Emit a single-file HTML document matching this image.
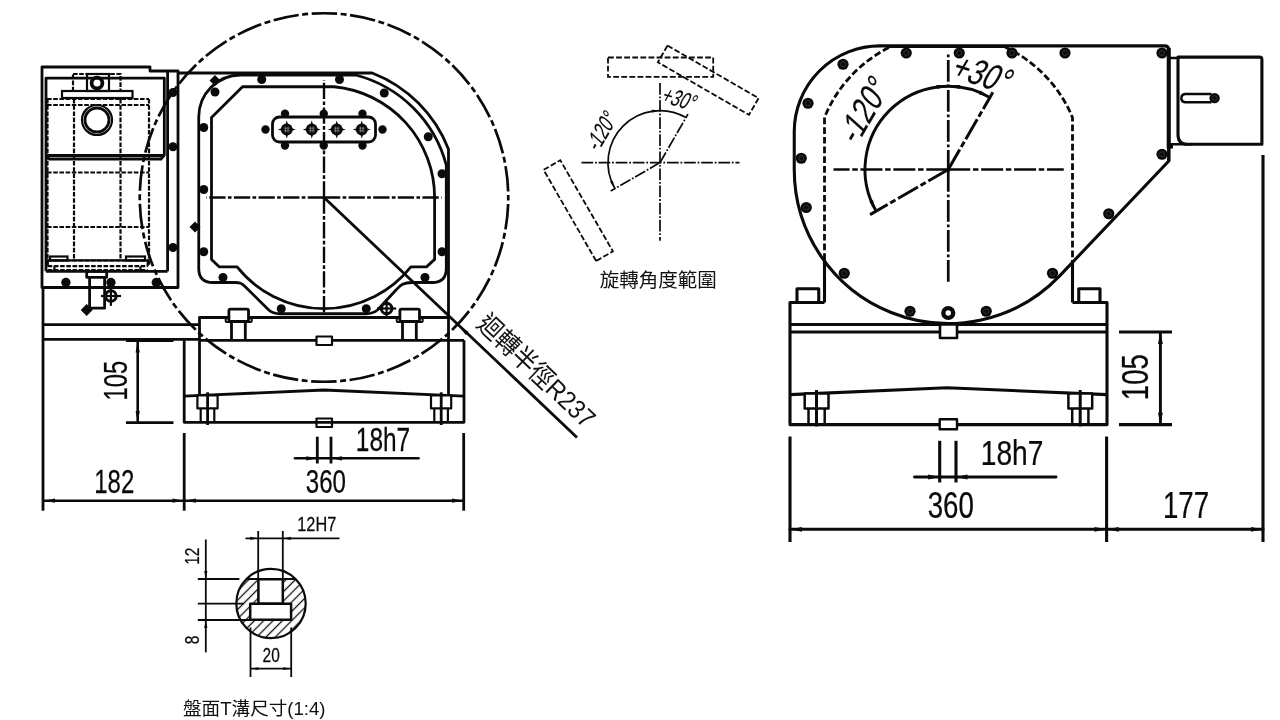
<!DOCTYPE html>
<html lang="zh-Hant">
<head>
<meta charset="utf-8">
<title>旋轉角度範圍 / 盤面T溝尺寸</title>
<style>
html,body{margin:0;padding:0;background:#fff;}
body{width:1280px;height:720px;overflow:hidden;}
svg{display:block;filter:grayscale(1);}
.m,.n,.s,.s2,.d,.d2,.dd,.cl,.cl2,.cl3,.clt{fill:none;stroke:#0a0a0a;}
.m{stroke-width:2.8;stroke-linejoin:round;}
.n{stroke-width:2.2;}
.s{stroke-width:2.6;stroke-linecap:round;}
.s2{stroke-width:1.8;}
.w{fill:none;stroke:#9a9a9a;stroke-width:0.7;}
.d{stroke-width:2.2;stroke-dasharray:4.6 1.6;}
.cl{stroke-width:2.4;stroke-dasharray:16.3 2.3 3.7 2.3;}
.cl2{stroke-width:2.7;stroke-dasharray:25.5 3.55 6 3.54;}
.T .m{stroke-width:2.5;}
.M .n{stroke-width:1.7;}
.clt{stroke-width:1.7;stroke-dasharray:11.7 1.8 1.8 1.8;}
.dd{stroke-width:1.8;stroke-dasharray:5.8 2.3;}
.R .m{stroke-width:3.1;}
.R .n{stroke-width:2.4;}
.R .s{stroke-width:2.9;}
.d2{stroke-width:2.8;stroke-dasharray:6.7 3;}
.R .cl{stroke-width:2.7;stroke-dasharray:22 2.7 5.5 2.7;}
.cl3{stroke-width:3;stroke-dasharray:23 3 6 3;}
.b{fill:#0a0a0a;stroke:none;}
.af{fill:#0a0a0a;stroke:none;}
.t{font-family:"Liberation Sans","Noto Sans CJK TC",sans-serif;fill:#0a0a0a;stroke:#0a0a0a;stroke-width:0.25;}
.ti{font-family:"Liberation Sans","Noto Sans CJK TC",sans-serif;fill:#0a0a0a;stroke:#0a0a0a;stroke-width:0.15;}
.tc{font-family:"Liberation Sans","Noto Sans CJK TC",sans-serif;fill:#111;}
</style>
</head>
<body>
<svg width="1280" height="720" viewBox="0 0 1280 720">
<rect x="0" y="0" width="1280" height="720" fill="#fff"/>
<g class="L">
<path class="m" d="M42,287.5 V67 H150 V71 H178 V287.5 Z"/>
<line class="m" x1="167.6" y1="71" x2="167.6" y2="271.3"/>
<path class="m" d="M46,271.3 V78.2 H164.3 V155 L161,159 H49.3 L46,155"/>
<line class="m" x1="46" y1="155.5" x2="164.3" y2="155.5"/>
<line class="m" x1="46" y1="271.3" x2="167.6" y2="271.3"/>
<rect class="d" x="73" y="74" width="47.5" height="17"/>
<rect class="n" x="87" y="74" width="22" height="17"/>
<circle class="m" cx="97" cy="83" r="5.4" style="stroke-width:3.8"/>
<rect class="n" x="62" y="91" width="70.5" height="7"/>
<line class="d" x1="47" y1="99" x2="149" y2="99"/>
<line class="d" x1="47" y1="105" x2="149" y2="105"/>
<line class="d" x1="47.5" y1="99" x2="47.5" y2="266"/>
<line class="d" x1="74" y1="99" x2="74" y2="260"/>
<line class="d" x1="120.5" y1="99" x2="120.5" y2="260"/>
<line class="d" x1="149" y1="99" x2="149" y2="266"/>
<line class="d" x1="47" y1="172.5" x2="149" y2="172.5"/>
<line class="d" x1="47" y1="227" x2="149" y2="227"/>
<circle class="n" cx="97" cy="120" r="15"/>
<circle class="m" cx="97" cy="120" r="12"/>
<rect class="n" x="50" y="256.5" width="17.5" height="4"/>
<rect class="n" x="126" y="256.5" width="19" height="4"/>
<path class="n" d="M47.7,266.2 V260.4 H147.7 V266.2"/>
<line class="d" x1="47.7" y1="266.2" x2="147.7" y2="266.2"/>
<line class="d" x1="47.5" y1="260.5" x2="149" y2="260.5"/>
<path class="n" d="M54.4,266.2 V271 M140.4,266.2 V271"/>
<line class="d" x1="47.7" y1="270" x2="147.7" y2="270"/>
<circle class="b" cx="173" cy="92.5" r="4.5"/>
<circle class="b" cx="173" cy="146.75" r="4.5"/>
<circle class="b" cx="173" cy="247.5" r="4.5"/>
<circle class="b" cx="65.9" cy="282.5" r="4.7"/>
<circle class="b" cx="110.9" cy="282.5" r="4.7"/>
<circle class="b" cx="156.3" cy="282.5" r="4.7"/>
<rect class="m" x="86.7" y="271.3" width="20" height="6"/>
<path class="m" d="M89.6,277.3 V308.2 M104.6,277.3 V308.2 H91"/>
<polygon class="b" points="86.7,304 92.7,310 86.7,316 80.7,310"/>
<circle class="m" cx="110.9" cy="296" r="5.3" style="stroke-width:3"/>
<line class="n" x1="101" y1="296" x2="121" y2="296"/>
<line class="n" x1="110.9" y1="286.5" x2="110.9" y2="305.8"/>
<line class="m" x1="43" y1="287.5" x2="43" y2="510.7"/>
<line class="m" x1="43" y1="324.7" x2="199.5" y2="324.7"/>
<line class="m" x1="43" y1="339.3" x2="199.5" y2="339.3"/>
<path class="m" d="M178,73 H372.19 A133.5,133.5 0 0 1 448.50,149.31 V395.5"/>
<path class="m" d="M198.75,117 A42,42 0 0 1 240.75,75 H355.56 A126.5,126.5 0 0 1 446.3,165.17 V268.5 Q446.3,282.5 432.3,282.5 H412 C402,282.5 400,286 396,290 L377.5,310 C374,313 371,313.75 366,313.75 H280 C275,313.75 272,313 268.75,310 L245,286.5 C241.5,283 240,282.5 235,282.5 H212.75 Q198.75,282.5 198.75,268.5 Z"/>
<path class="m" d="M211.5,117.5 L242.5,86.75 H333.99 A111.2,111.2 0 0 1 434.6,197.5 V259.4 L426.5,266.9 H410.89 A111.2,111.2 0 0 1 237.11,266.9 H219.4 L211.5,259.4 Z"/>
<circle class="cl2" cx="324" cy="197.5" r="184.25" stroke-dashoffset="32.04"/>
<line class="cl" x1="324" y1="197.5" x2="206.5" y2="197.5"/>
<line class="cl" x1="324" y1="197.5" x2="441.5" y2="197.5"/>
<line class="cl" x1="324" y1="197.5" x2="324" y2="80"/>
<line class="cl" x1="324" y1="197.5" x2="324" y2="313.5"/>
<rect class="m" x="272.5" y="117" width="103" height="25" rx="7" ry="7"/>
<circle class="b" cx="286.75" cy="129.5" r="5.9"/>
<polygon class="b" points="277.75,129.5 281.75,128.2 281.75,130.8"/>
<polygon class="b" points="295.75,129.5 291.75,128.2 291.75,130.8"/>
<polygon class="b" points="286.75,120.5 285.45,124.5 288.05,124.5"/>
<polygon class="b" points="286.75,138.5 285.45,134.5 288.05,134.5"/>
<line class="w" x1="285.45" y1="126.7" x2="285.45" y2="132.3"/>
<line class="w" x1="283.95" y1="128.2" x2="289.55" y2="128.2"/>
<line class="w" x1="288.05" y1="126.7" x2="288.05" y2="132.3"/>
<line class="w" x1="283.95" y1="130.8" x2="289.55" y2="130.8"/>
<circle class="b" cx="311.75" cy="129.5" r="5.9"/>
<polygon class="b" points="302.75,129.5 306.75,128.2 306.75,130.8"/>
<polygon class="b" points="320.75,129.5 316.75,128.2 316.75,130.8"/>
<polygon class="b" points="311.75,120.5 310.45,124.5 313.05,124.5"/>
<polygon class="b" points="311.75,138.5 310.45,134.5 313.05,134.5"/>
<line class="w" x1="310.45" y1="126.7" x2="310.45" y2="132.3"/>
<line class="w" x1="308.95" y1="128.2" x2="314.55" y2="128.2"/>
<line class="w" x1="313.05" y1="126.7" x2="313.05" y2="132.3"/>
<line class="w" x1="308.95" y1="130.8" x2="314.55" y2="130.8"/>
<circle class="b" cx="336.75" cy="129.5" r="5.9"/>
<polygon class="b" points="327.75,129.5 331.75,128.2 331.75,130.8"/>
<polygon class="b" points="345.75,129.5 341.75,128.2 341.75,130.8"/>
<polygon class="b" points="336.75,120.5 335.45,124.5 338.05,124.5"/>
<polygon class="b" points="336.75,138.5 335.45,134.5 338.05,134.5"/>
<line class="w" x1="335.45" y1="126.7" x2="335.45" y2="132.3"/>
<line class="w" x1="333.95" y1="128.2" x2="339.55" y2="128.2"/>
<line class="w" x1="338.05" y1="126.7" x2="338.05" y2="132.3"/>
<line class="w" x1="333.95" y1="130.8" x2="339.55" y2="130.8"/>
<circle class="b" cx="361.75" cy="129.5" r="5.9"/>
<polygon class="b" points="352.75,129.5 356.75,128.2 356.75,130.8"/>
<polygon class="b" points="370.75,129.5 366.75,128.2 366.75,130.8"/>
<polygon class="b" points="361.75,120.5 360.45,124.5 363.05,124.5"/>
<polygon class="b" points="361.75,138.5 360.45,134.5 363.05,134.5"/>
<line class="w" x1="360.45" y1="126.7" x2="360.45" y2="132.3"/>
<line class="w" x1="358.95" y1="128.2" x2="364.55" y2="128.2"/>
<line class="w" x1="363.05" y1="126.7" x2="363.05" y2="132.3"/>
<line class="w" x1="358.95" y1="130.8" x2="364.55" y2="130.8"/>
<circle class="b" cx="285" cy="113.75" r="4.2"/>
<circle class="b" cx="285" cy="145.5" r="4.2"/>
<circle class="b" cx="323.75" cy="113.75" r="4.2"/>
<circle class="b" cx="323.75" cy="145.5" r="4.2"/>
<circle class="b" cx="362.5" cy="113.75" r="4.2"/>
<circle class="b" cx="362.5" cy="145.5" r="4.2"/>
<circle class="b" cx="265.5" cy="129.5" r="4.2"/>
<circle class="b" cx="382.5" cy="129.5" r="4.2"/>
<circle class="b" cx="215" cy="92" r="4.5"/>
<circle class="b" cx="261.75" cy="79.5" r="4.5"/>
<circle class="b" cx="339.5" cy="79.5" r="4.5"/>
<circle class="b" cx="384.25" cy="93" r="4.5"/>
<circle class="b" cx="428.25" cy="136.75" r="4.5"/>
<circle class="b" cx="442" cy="173.75" r="4.5"/>
<circle class="b" cx="203.75" cy="127.5" r="4.5"/>
<circle class="b" cx="203.75" cy="189.5" r="4.5"/>
<circle class="b" cx="203.75" cy="251.75" r="4.5"/>
<circle class="b" cx="223" cy="277.5" r="4.5"/>
<circle class="b" cx="281.25" cy="308.75" r="4.5"/>
<circle class="b" cx="366.25" cy="308.75" r="4.5"/>
<circle class="b" cx="425" cy="277.5" r="4.5"/>
<circle class="b" cx="442" cy="251.75" r="4.5"/>
<polygon class="b" points="215,75 220.5,80.5 215,86 209.5,80.5"/>
<polygon class="b" points="195,221.5 200.5,227 195,232.5 189.5,227"/>
<circle class="m" cx="386.6" cy="308.5" r="5.3" style="stroke-width:3"/>
<line class="n" x1="377" y1="308.5" x2="396.2" y2="308.5"/>
<line class="n" x1="386.6" y1="299" x2="386.6" y2="318"/>
<line class="m" x1="324" y1="197.5" x2="577" y2="437.5"/>
<polygon class="af" points="457.80,324.50 468.68,331.93 465.78,334.97"/>
<text class="tc" transform="translate(475.6 325.5) rotate(43.6) scale(0.89 1)" font-size="26.5" text-anchor="start">迴轉半徑R237</text>
<path class="m" d="M199.5,394.5 V317.5 H448.5"/>
<line class="m" x1="199.5" y1="340.3" x2="464" y2="340.3"/>
<rect class="m" x="225.70000000000002" y="318.3" width="26" height="3.6" style="stroke-width:2;fill:#fff" rx="1"/>
<rect class="m" x="228.9" y="309.1" width="19.6" height="12.2" style="fill:#fff" rx="1.6"/>
<line class="m" x1="231.5" y1="321.3" x2="231.5" y2="340.3"/>
<line class="m" x1="245.3" y1="321.3" x2="245.3" y2="340.3"/>
<rect class="m" x="396.7" y="318.3" width="26" height="3.6" style="stroke-width:2;fill:#fff" rx="1"/>
<rect class="m" x="399.9" y="309.1" width="19.6" height="12.2" style="fill:#fff" rx="1.6"/>
<line class="m" x1="402.5" y1="321.3" x2="402.5" y2="340.3"/>
<line class="m" x1="416.29999999999995" y1="321.3" x2="416.29999999999995" y2="340.3"/>
<rect class="m" x="316.5" y="336.5" width="15.5" height="8.5" style="fill:#fff;stroke-width:2.2"/>
<rect class="m" x="316.5" y="418.5" width="15.5" height="8.5" style="fill:#fff;stroke-width:2.2"/>
<path class="m" d="M184.2,340.3 V422.3 H464 V340.3"/>
<path class="m" d="M184.2,396.2 L324,390 L464,396.2"/>
<rect class="m" x="197.4" y="395.3" width="20.2" height="13.099999999999966" style="fill:#fff;stroke-width:2.2"/>
<line class="m" x1="200.7" y1="408.4" x2="200.7" y2="422.5" style="stroke-width:2.2"/>
<line class="m" x1="214.29999999999998" y1="408.4" x2="214.29999999999998" y2="422.5" style="stroke-width:2.2"/>
<line class="m" x1="207.6" y1="392.3" x2="207.6" y2="425" style="stroke-width:2.8"/>
<rect class="m" x="431.0" y="395.3" width="20.2" height="13.099999999999966" style="fill:#fff;stroke-width:2.2"/>
<line class="m" x1="434.3" y1="408.4" x2="434.3" y2="422.5" style="stroke-width:2.2"/>
<line class="m" x1="447.9" y1="408.4" x2="447.9" y2="422.5" style="stroke-width:2.2"/>
<line class="m" x1="441.2" y1="392.3" x2="441.2" y2="425" style="stroke-width:2.8"/>
<line class="m" x1="126" y1="340.7" x2="173.5" y2="340.7"/>
<line class="m" x1="126" y1="422.7" x2="173.5" y2="422.7"/>
<line class="s" x1="137.7" y1="341" x2="137.7" y2="422"/>
<polygon class="af" points="137.70,341.50 139.80,352.50 135.60,352.50"/>
<polygon class="af" points="137.70,422.00 135.60,411.00 139.80,411.00"/>
<text class="t" transform="translate(127 400.6) rotate(-90) scale(0.724 1)" font-size="33" text-anchor="start">105</text>
<line class="m" x1="317.3" y1="436.7" x2="317.3" y2="463.5"/>
<line class="m" x1="331" y1="436.7" x2="331" y2="463.5"/>
<line class="s" x1="295" y1="458.3" x2="331" y2="458.3"/>
<line class="s" x1="331" y1="458.3" x2="418.5" y2="458.3"/>
<polygon class="af" points="317.30,458.30 306.30,460.40 306.30,456.20"/>
<polygon class="af" points="331.00,458.30 342.00,456.20 342.00,460.40"/>
<text class="t" transform="translate(355.8 450.5) scale(0.741 1)" font-size="33" text-anchor="start">18h7</text>
<line class="m" x1="184.2" y1="433" x2="184.2" y2="510.7"/>
<line class="m" x1="463.7" y1="433" x2="463.7" y2="510.7"/>
<line class="s" x1="44" y1="500.7" x2="463.7" y2="500.7"/>
<polygon class="af" points="44.00,500.70 55.00,498.60 55.00,502.80"/>
<polygon class="af" points="183.50,500.70 172.50,502.80 172.50,498.60"/>
<polygon class="af" points="185.00,500.70 196.00,498.60 196.00,502.80"/>
<polygon class="af" points="463.00,500.70 452.00,502.80 452.00,498.60"/>
<text class="t" transform="translate(94.3 492.6) scale(0.726 1)" font-size="33" text-anchor="start">182</text>
<text class="t" transform="translate(305.8 492.7) scale(0.731 1)" font-size="33" text-anchor="start">360</text>
</g>
<g class="T">
<defs><pattern id="h" width="6.6" height="6.6" patternUnits="userSpaceOnUse" patternTransform="rotate(-45 271 603.5)"><line x1="0" y1="3.3" x2="6.6" y2="3.3" stroke="#111" stroke-width="1.3"/></pattern><clipPath id="hc"><rect x="230" y="579" width="90" height="70"/></clipPath></defs>
<circle class="m" cx="271" cy="603.5" r="34.7" style="fill:url(#h);stroke:none" clip-path="url(#hc)"/>
<line class="s2" x1="246.43" y1="579" x2="295.57" y2="579"/>
<rect class="m" x="258.4" y="579.2" width="24.4" height="24.5" style="fill:#fff"/>
<rect class="m" x="250.2" y="603.7" width="40.9" height="16.1" style="fill:#fff"/>
<circle class="m" cx="271" cy="603.5" r="34.7" style="stroke-width:2.2"/>
<line class="s2" x1="258.2" y1="531" x2="258.2" y2="579"/>
<line class="s2" x1="282.8" y1="531" x2="282.8" y2="579"/>
<line class="s2" x1="245.5" y1="538.4" x2="282.8" y2="538.4"/>
<line class="s2" x1="283" y1="538.4" x2="339.5" y2="538.4"/>
<polygon class="af" points="258.20,538.40 250.20,540.00 250.20,536.80"/>
<polygon class="af" points="282.80,538.40 290.80,536.80 290.80,540.00"/>
<text class="t" transform="translate(297.3 531.2) scale(0.824 1)" font-size="19.8" text-anchor="start">12H7</text>
<line class="s2" x1="205.8" y1="539.5" x2="205.8" y2="652.4"/>
<polygon class="af" points="205.80,579.00 204.20,571.00 207.40,571.00"/>
<polygon class="af" points="205.80,620.00 207.40,628.00 204.20,628.00"/>
<line class="s2" x1="197.8" y1="579" x2="239.4" y2="579"/>
<line class="s2" x1="197.8" y1="603.7" x2="244" y2="603.7"/>
<line class="s2" x1="197.8" y1="620" x2="250" y2="620"/>
<text class="t" transform="translate(198.8 564.8) rotate(-90) scale(0.78 1)" font-size="19.8" text-anchor="start">12</text>
<text class="t" transform="translate(198.5 644.2) rotate(-90) scale(0.78 1)" font-size="19.8" text-anchor="start">8</text>
<line class="s2" x1="250.5" y1="627.4" x2="250.5" y2="677"/>
<line class="s2" x1="291.2" y1="627.4" x2="291.2" y2="677"/>
<line class="s2" x1="250.5" y1="668.6" x2="291.2" y2="668.6"/>
<polygon class="af" points="250.50,668.60 258.50,667.20 258.50,670.00"/>
<polygon class="af" points="291.20,668.60 283.20,670.00 283.20,667.20"/>
<text class="t" transform="translate(262.6 662) scale(0.78 1)" font-size="19.8" text-anchor="start">20</text>
<text class="tc" transform="translate(183 715)" font-size="18.6" text-anchor="start">盤面T溝尺寸(1:4)</text>
</g>
<g class="M">
<line class="clt" x1="581.5" y1="162.6" x2="739.5" y2="162.6"/>
<line class="clt" x1="660" y1="83" x2="660" y2="240.8"/>
<rect class="dd" x="608" y="57.5" width="105.2" height="19.3"/>
<rect class="dd" x="608" y="57.5" width="105.2" height="19.3" transform="rotate(30 660 162.6)"/>
<rect class="dd" x="608" y="57.5" width="105.2" height="19.3" transform="translate(1.2 0.8) rotate(-120 660 162.6)"/>
<path class="n" d="M614.97,188.60 A52,52 0 0 1 686.00,117.57"/>
<polygon class="af" points="660.00,110.60 655.86,109.94 651.63,109.76 652.10,112.72 655.98,111.58"/>
<polygon class="af" points="614.97,188.60 612.32,185.34 610.05,181.77 612.85,180.70 613.81,184.63"/>
<line class="clt" x1="660" y1="162.6" x2="688.00" y2="114.10"/>
<line class="clt" x1="660" y1="162.6" x2="610.64" y2="191.10"/>
<text class="ti" transform="translate(659.8 101.2) rotate(17) skewX(-12) scale(0.68 1)" font-size="23.5" text-anchor="start">+30°</text>
<text class="ti" transform="translate(598 153) rotate(-60) skewX(-12) scale(0.69 1)" font-size="23.5" text-anchor="start">-120°</text>
<text class="tc" transform="translate(599.8 287.3)" font-size="19.5" text-anchor="start">旋轉角度範圍</text>
</g>
<g class="R">
<path class="m" d="M1168.8,161 V50 Q1168.8,45.9 1164.5,45.9 H880 A85.75,85.75 0 0 0 794.25,131.65 V169.5 A154,154 0 0 0 1059.87,275.60 Z"/>
<path class="d2" d="M824.5,260 V117.5 A135,135 0 0 1 890,47 M1005,47 A135,135 0 0 1 1072.5,117.5 V260"/>
<line class="m" x1="824.5" y1="260" x2="824.5" y2="302.5"/>
<line class="m" x1="889" y1="46.6" x2="1006" y2="46.6" style="stroke-width:3"/>
<line class="m" x1="1072.5" y1="260" x2="1072.5" y2="302.5"/>
<line class="cl" x1="948.25" y1="169.5" x2="833.5" y2="169.5"/>
<line class="cl" x1="948.25" y1="169.5" x2="1063.75" y2="169.5"/>
<line class="cl" x1="948.25" y1="171.7" x2="948.25" y2="54" style="stroke-dasharray:21.7 2.7 2.9 2.7"/>
<line class="cl" x1="948.25" y1="170" x2="948.25" y2="283.5" style="stroke-dasharray:21.7 2.7 2.9 2.7"/>
<path class="m" d="M876.15,211.12 A83.25,83.25 0 0 1 989.88,97.40" style="stroke-width:2.9"/>
<polygon class="af" points="948.25,86.25 942.37,85.36 936.39,85.08 936.94,89.04 942.52,87.55"/>
<polygon class="af" points="948.25,86.25 954.13,85.36 960.11,85.08 959.56,89.04 953.98,87.55"/>
<polygon class="af" points="876.15,211.12 872.44,206.48 869.21,201.44 872.92,199.94 874.41,205.51"/>
<polygon class="af" points="989.88,97.40 985.23,93.69 980.19,90.46 978.69,94.17 984.26,95.66"/>
<line class="cl3" x1="948.25" y1="169.5" x2="992.88" y2="92.21"/>
<line class="cl3" x1="948.25" y1="169.5" x2="870.09" y2="214.62"/>
<text class="ti" transform="translate(949 76) rotate(18) skewX(-12) scale(0.76 1)" font-size="36.5" text-anchor="start">+30°</text>
<text class="ti" transform="translate(856.5 146.7) rotate(-60) skewX(-12) scale(0.79 1)" font-size="35" text-anchor="start">-120°</text>
<circle class="b" cx="906.25" cy="53" r="5.6"/>
<circle cx="906.25" cy="53" r="2.52" fill="none" stroke="#3a3a3a" stroke-width="0.8"/>
<circle class="b" cx="959.25" cy="53" r="5.6"/>
<circle cx="959.25" cy="53" r="2.52" fill="none" stroke="#3a3a3a" stroke-width="0.8"/>
<circle class="b" cx="1012" cy="53" r="5.6"/>
<circle cx="1012" cy="53" r="2.52" fill="none" stroke="#3a3a3a" stroke-width="0.8"/>
<circle class="b" cx="1065" cy="53" r="5.6"/>
<circle cx="1065" cy="53" r="2.52" fill="none" stroke="#3a3a3a" stroke-width="0.8"/>
<circle class="b" cx="1162" cy="53" r="5.6"/>
<circle cx="1162" cy="53" r="2.52" fill="none" stroke="#3a3a3a" stroke-width="0.8"/>
<circle class="b" cx="1162" cy="154.25" r="5.6"/>
<circle cx="1162" cy="154.25" r="2.52" fill="none" stroke="#3a3a3a" stroke-width="0.8"/>
<circle class="b" cx="843" cy="64.25" r="5.6"/>
<circle cx="843" cy="64.25" r="2.52" fill="none" stroke="#3a3a3a" stroke-width="0.8"/>
<circle class="b" cx="808" cy="103.25" r="5.6"/>
<circle cx="808" cy="103.25" r="2.52" fill="none" stroke="#3a3a3a" stroke-width="0.8"/>
<circle class="b" cx="801.25" cy="158.25" r="5.6"/>
<circle cx="801.25" cy="158.25" r="2.52" fill="none" stroke="#3a3a3a" stroke-width="0.8"/>
<circle class="b" cx="806.25" cy="207.5" r="5.6"/>
<circle cx="806.25" cy="207.5" r="2.52" fill="none" stroke="#3a3a3a" stroke-width="0.8"/>
<circle class="b" cx="844.25" cy="273.25" r="5.6"/>
<circle cx="844.25" cy="273.25" r="2.52" fill="none" stroke="#3a3a3a" stroke-width="0.8"/>
<circle class="b" cx="910" cy="311.25" r="5.6"/>
<circle cx="910" cy="311.25" r="2.52" fill="none" stroke="#3a3a3a" stroke-width="0.8"/>
<circle class="b" cx="986.25" cy="311.25" r="5.6"/>
<circle cx="986.25" cy="311.25" r="2.52" fill="none" stroke="#3a3a3a" stroke-width="0.8"/>
<circle class="b" cx="1052.5" cy="273.25" r="5.6"/>
<circle cx="1052.5" cy="273.25" r="2.52" fill="none" stroke="#3a3a3a" stroke-width="0.8"/>
<circle class="b" cx="1108.75" cy="213.75" r="5.6"/>
<circle cx="1108.75" cy="213.75" r="2.52" fill="none" stroke="#3a3a3a" stroke-width="0.8"/>
<circle class="m" cx="948.25" cy="313" r="4.9" style="stroke-width:4.4;fill:#fff"/>
<rect class="m" x="797" y="288.75" width="21.75" height="13.75"/>
<rect class="m" x="1078.75" y="288.75" width="21.25" height="13.75"/>
<path class="m" d="M824.5,302.5 H790 V424.6 H1107 V302.5 H1072.5"/>
<line class="m" x1="790" y1="324.5" x2="1107" y2="324.5"/>
<line class="m" x1="790" y1="332" x2="1107" y2="332"/>
<rect class="m" x="940" y="324.5" width="17" height="13.5" style="fill:#fff;stroke-width:2.6"/>
<path class="m" d="M790,394.6 L947,387.8 L1107,394.6"/>
<rect class="m" x="804.7" y="393.5" width="23.8" height="15" style="fill:#fff;stroke-width:2.5"/>
<line class="m" x1="808.5" y1="408.4" x2="808.5" y2="424" style="stroke-width:2.5"/>
<line class="m" x1="824.7" y1="408.4" x2="824.7" y2="424" style="stroke-width:2.5"/>
<line class="m" x1="816.5" y1="390" x2="816.5" y2="426.4" style="stroke-width:3"/>
<rect class="m" x="1068.4" y="393.5" width="23.8" height="15" style="fill:#fff;stroke-width:2.5"/>
<line class="m" x1="1072.2" y1="408.4" x2="1072.2" y2="424" style="stroke-width:2.5"/>
<line class="m" x1="1088.4" y1="408.4" x2="1088.4" y2="424" style="stroke-width:2.5"/>
<line class="m" x1="1080.2" y1="390" x2="1080.2" y2="426.4" style="stroke-width:3"/>
<rect class="m" x="939.7" y="419.3" width="17.3" height="10" style="fill:#fff;stroke-width:2.4"/>
<line class="m" x1="1168.7" y1="48" x2="1168.7" y2="148.5" style="stroke-width:4"/>
<line class="m" x1="1168.8" y1="148" x2="1168.8" y2="161"/>
<rect class="b" x="1169.5" y="143.5" width="3.5" height="5"/>
<path class="m" d="M1169,58 H1178 M1169,144.3 H1192" style="stroke-width:2.4"/>
<path class="m" d="M1178,57.1 H1259.4 Q1261.9,57.1 1261.9,59.6 V144.3 H1187.5 Q1178,144.3 1178,134.8 Z"/>
<path class="m" d="M1211.5,94 H1184.9 A4.2,4.2 0 0 0 1184.9,102.3 H1211.5" style="stroke-width:2.4"/>
<circle class="b" cx="1214.6" cy="98.1" r="5.2"/>
<circle cx="1214.6" cy="98.1" r="2.34" fill="none" stroke="#3a3a3a" stroke-width="0.8"/>
<line class="m" x1="1263" y1="155" x2="1263" y2="542"/>
<line class="m" x1="790" y1="436.5" x2="790" y2="542"/>
<line class="m" x1="1106.6" y1="436.5" x2="1106.6" y2="542"/>
<line class="s" x1="790" y1="529.3" x2="1263" y2="529.3"/>
<polygon class="af" points="790.50,529.30 802.00,526.90 802.00,531.70"/>
<polygon class="af" points="1106.00,529.30 1094.50,531.70 1094.50,526.90"/>
<polygon class="af" points="1107.30,529.30 1118.80,526.90 1118.80,531.70"/>
<polygon class="af" points="1262.50,529.30 1251.00,531.70 1251.00,526.90"/>
<text class="t" transform="translate(927.7 517.8) scale(0.747 1)" font-size="37" text-anchor="start">360</text>
<text class="t" transform="translate(1163 517.8) scale(0.747 1)" font-size="37" text-anchor="start">177</text>
<line class="m" x1="939.7" y1="440.8" x2="939.7" y2="482.5"/>
<line class="m" x1="956" y1="440.8" x2="956" y2="482.5"/>
<line class="s" x1="914.5" y1="477" x2="956" y2="477"/>
<line class="s" x1="956" y1="477" x2="1056" y2="477"/>
<polygon class="af" points="939.70,477.00 928.20,479.40 928.20,474.60"/>
<polygon class="af" points="956.00,477.00 967.50,474.60 967.50,479.40"/>
<text class="t" transform="translate(980.7 464.8) scale(0.783 1)" font-size="36" text-anchor="start">18h7</text>
<line class="m" x1="1119" y1="332" x2="1172" y2="332"/>
<line class="m" x1="1119" y1="424.6" x2="1172" y2="424.6"/>
<line class="s" x1="1160.4" y1="333" x2="1160.4" y2="424"/>
<polygon class="af" points="1160.40,332.50 1162.80,344.00 1158.00,344.00"/>
<polygon class="af" points="1160.40,424.30 1158.00,412.80 1162.80,412.80"/>
<text class="t" transform="translate(1148 400.2) rotate(-90) scale(0.747 1)" font-size="37" text-anchor="start">105</text>
</g>
</svg>
</body>
</html>
